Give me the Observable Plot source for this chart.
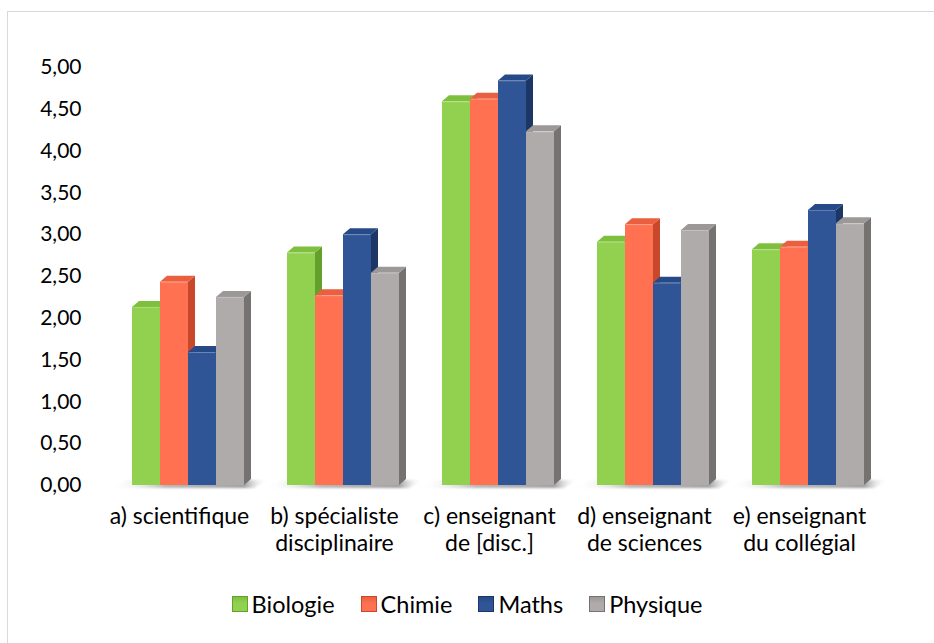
<!DOCTYPE html>
<html lang="fr">
<head>
<meta charset="utf-8">
<script src="https://cdn.jsdelivr.net/npm/d3@7"></script>
<script src="https://cdn.jsdelivr.net/npm/@observablehq/plot@0.6"></script>
<style>
  html, body { margin: 0; padding: 0; background: #fff; }
  body { width: 934px; height: 643px; position: relative; overflow: hidden; font-family: Lato, "Open Sans", sans-serif; }
  #frame { position: absolute; left: 7px; top: 11px; width: 1000px; height: 1000px; border-left: 1px solid #d9d9d9; border-top: 1px solid #d9d9d9; }
  #chart { position: absolute; left: 0; top: 0; }
  #legend { position: absolute; left: 0; top: 590px; width: 934px; display: flex; justify-content: center; align-items: center; font-size: 23.5px; color: #000; }
  .item { display: flex; align-items: center; margin: 0 13px; }
  .sw { width: 16px; height: 16px; margin-right: 4px; box-sizing: border-box; }
</style>
</head>
<body>
<div id="frame"></div>
<div id="chart"></div>
<div id="legend"></div>
<script>
// Categories (multi-line labels) and series
const categories = [
  "a) scientifique",
  "b) spécialiste\ndisciplinaire",
  "c) enseignant\nde [disc.]",
  "d) enseignant\nde sciences",
  "e) enseignant\ndu collégial"
];
const series = ["Biologie", "Chimie", "Maths", "Physique"];

// Mean scores per category, one array per series
const biologie = [2.13, 2.78, 4.59, 2.91, 2.82];
const chimie   = [2.43, 2.27, 4.62, 3.12, 2.85];
const maths    = [1.59, 3.00, 4.84, 2.42, 3.29];
const physique = [2.25, 2.54, 4.23, 3.05, 3.13];

const yTicks = [0, 0.5, 1, 1.5, 2, 2.5, 3, 3.5, 4, 4.5, 5];

// Face colours: front, side, top
const palette = {
  Biologie: {front: "#92d050", side: "#63a02c", top: "#7fbf3e"},
  Chimie:   {front: "#ff7150", side: "#c8482b", top: "#ea5f3f"},
  Maths:    {front: "#2f5597", side: "#1c3766", top: "#264a88"},
  Physique: {front: "#afabab", side: "#767272", top: "#9c9898"}
};

const valuesBySeries = {Biologie: biologie, Chimie: chimie, Maths: maths, Physique: physique};
const data = [];
categories.forEach((cat, ci) => {
  series.forEach(s => data.push({cat, serie: s, value: valuesBySeries[s][ci]}));
});

const DX = 7, DY = 6; // depth of the extruded bars

// Draws each bar as a small prism (side, top, front) from the scaled channel values
function prism(index, scales, values, dimensions, context) {
  const g = d3.create("svg:g");
  const bw = scales.x.bandwidth();
  const x0 = scales.x(series[0]);
  const x1 = scales.x(series[series.length - 1]) + bw;
  const base = scales.y(0);

  // floor shadow under the group
  const gid = "shade" + Math.random().toString(36).slice(2);
  const grad = g.append("defs").append("linearGradient").attr("id", gid).attr("x1", "0").attr("x2", "1");
  grad.append("stop").attr("offset", "0").attr("stop-color", "#ffffff").attr("stop-opacity", 0);
  grad.append("stop").attr("offset", "0.35").attr("stop-color", "#9a9a9a").attr("stop-opacity", 0.7);
  grad.append("stop").attr("offset", "0.85").attr("stop-color", "#8a8a8a").attr("stop-opacity", 0.8);
  grad.append("stop").attr("offset", "1").attr("stop-color", "#ffffff").attr("stop-opacity", 0);
  g.append("polygon")
    .attr("points", [[x0 - 22, base + 3], [x1 + 10, base + 3], [x1 + 24, base - 5], [x0 - 6, base - 5]].join(" "))
    .attr("fill", `url(#${gid})`)
    .attr("filter", "blur(1px)");

  for (const i of index) {
    const d = data[i];
    const c = palette[d.serie];
    const xl = values.x[i];
    const xr = xl + bw;
    const yt = Math.min(values.y1[i], values.y2[i]);
    const yb = Math.max(values.y1[i], values.y2[i]);
    // side face
    g.append("polygon")
      .attr("points", [[xr, yb], [xr, yt], [xr + DX, yt - DY], [xr + DX, yb - DY]].join(" "))
      .attr("fill", c.side);
    // top face
    g.append("polygon")
      .attr("points", [[xl, yt], [xr, yt], [xr + DX, yt - DY], [xl + DX, yt - DY]].join(" "))
      .attr("fill", c.top);
    // front face
    g.append("rect")
      .attr("x", xl).attr("y", yt)
      .attr("width", bw).attr("height", yb - yt)
      .attr("fill", c.front);
    // thin highlight along the front's top edge
    g.append("line")
      .attr("x1", xl + 1).attr("x2", xr - 1).attr("y1", yt + 0.5).attr("y2", yt + 0.5)
      .attr("stroke", "#ffffff").attr("stroke-opacity", 0.25);
  }
  return g.node();
}

const chart = Plot.plot({
  width: 934,
  height: 560,
  marginTop: 67,
  marginBottom: 75,
  marginLeft: 101,
  marginRight: 38,
  style: {fontFamily: "Lato, 'Open Sans', sans-serif", fontSize: "21px", color: "#000", background: "transparent", overflow: "visible"},
  fx: {domain: categories, paddingInner: 0.277, paddingOuter: 0.2, label: null, axis: null},
  x: {domain: series, padding: 0, axis: null},
  y: {domain: [0, 5], axis: null},
  marks: [
    // y labels sit in the leftmost facet; padding puts their right edge near x = 81
    Plot.axisY(yTicks, {
      tickSize: 0, tickPadding: 51, fontSize: 21,
      tickFormat: d => d.toFixed(2).replace(".", ","),
      label: null
    }),
    Plot.axisFx({
      anchor: "bottom", tickSize: 0, tickPadding: 19, fontSize: 23,
      lineHeight: 1.17, dx: -9, label: null
    }),
    Plot.barY(data, {fx: "cat", x: "serie", y: "value", fill: "serie", render: prism})
  ]
});
document.getElementById("chart").appendChild(chart);

// Legend
const legend = document.getElementById("legend");
for (const s of series) {
  const item = document.createElement("div");
  item.className = "item";
  const sw = document.createElement("span");
  sw.className = "sw";
  const c = palette[s];
  sw.style.background = `linear-gradient(to bottom, ${c.top} 0%, ${c.front} 45%, ${c.front} 100%)`;
  sw.style.border = `1px solid ${c.side}`;
  const label = document.createElement("span");
  label.textContent = s;
  item.appendChild(sw);
  item.appendChild(label);
  legend.appendChild(item);
}
</script>
</body>
</html>
